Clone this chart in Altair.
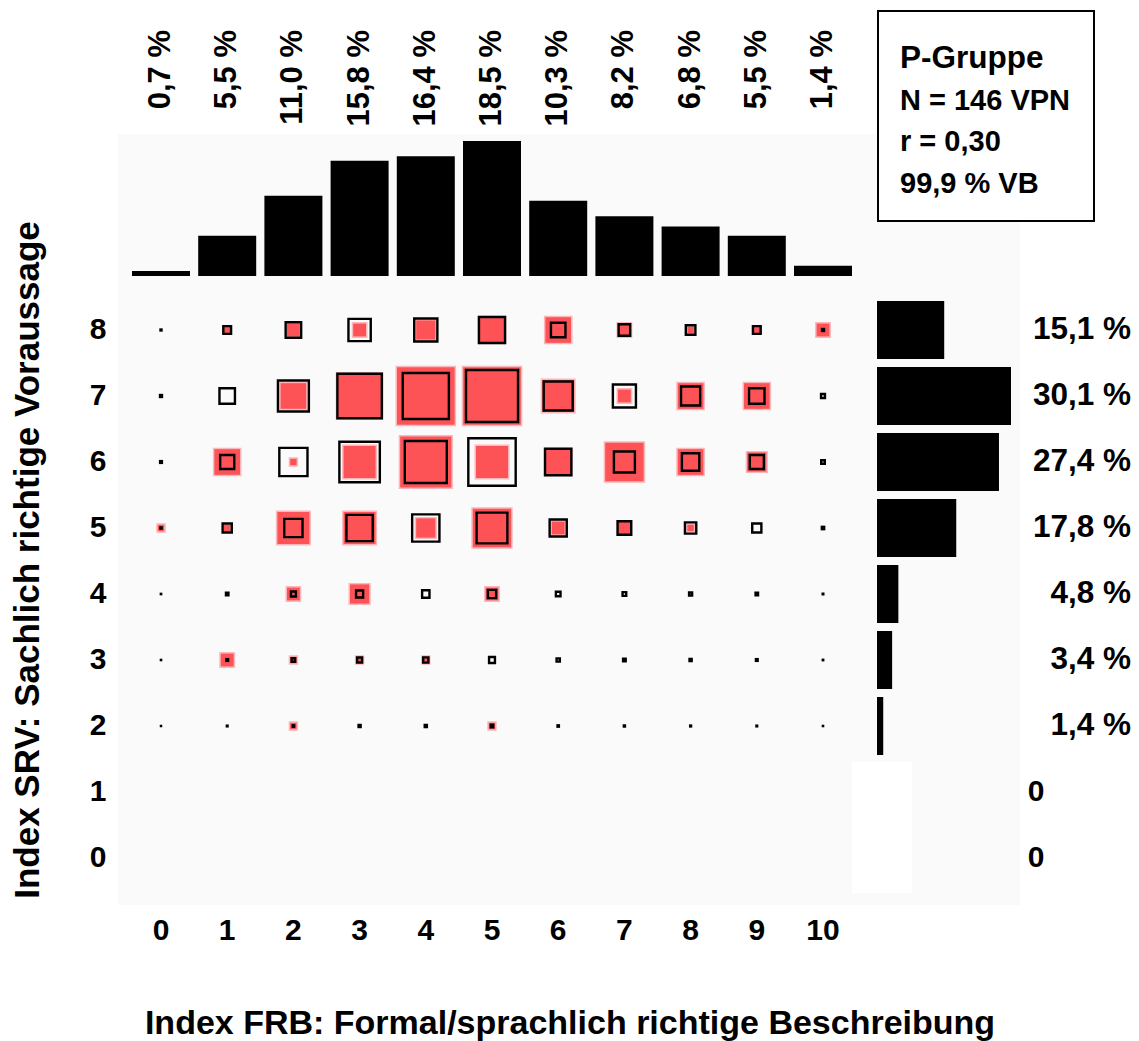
import altair as alt
import pandas as pd

FONT = "Liberation Sans"
RED = "#fd5357"
N = 146

cols = list(range(11))
col_pct = [0.7, 5.5, 11.0, 15.8, 16.4, 18.5, 10.3, 8.2, 6.8, 5.5, 1.4]
col_labels = ["0,7 %", "5,5 %", "11,0 %", "15,8 %", "16,4 %", "18,5 %",
              "10,3 %", "8,2 %", "6,8 %", "5,5 %", "1,4 %"]

rows = [8, 7, 6, 5, 4, 3, 2, 1, 0]
row_pct = [15.1, 30.1, 27.4, 17.8, 4.8, 3.4, 1.4, 0, 0]
row_labels = ["15,1 %", "30,1 %", "27,4 %", "17,8 %", "4,8 %", "3,4 %", "1,4 %", "0", "0"]

# observed counts, one list per row (row 8 first), columns 0..10
observed = [
    [0, 1, 2, 2, 3, 4, 4, 2, 1, 1, 2],
    [0, 0, 4, 7, 9, 9, 5, 2, 4, 4, 0],
    [0, 4, 1, 5, 8, 5, 4, 6, 4, 3, 0],
    [1, 1, 5, 5, 3, 6, 2, 2, 1, 0, 0],
    [0, 0, 2, 3, 0, 2, 0, 0, 0, 0, 0],
    [0, 2, 1, 1, 1, 0, 0, 0, 0, 0, 0],
    [0, 0, 1, 0, 0, 1, 0, 0, 0, 0, 0],
    [0, 0, 0, 0, 0, 0, 0, 0, 0, 0, 0],
    [0, 0, 0, 0, 0, 0, 0, 0, 0, 0, 0],
]

info_lines = ["P-Gruppe", "N = 146 VPN", "r = 0,30", "99,9 % VB"]
x_title = "Index FRB: Formal/sprachlich richtige Beschreibung"
y_title = "Index SRV: Sachlich richtige Voraussage"

cells = pd.DataFrame([
    {"row": r, "col": c, "obs": observed[i][j], "rowpct": row_pct[i], "colpct": col_pct[j]}
    for i, r in enumerate(rows) for j, c in enumerate(cols)
])
top = pd.DataFrame({"col": cols, "pct": col_pct, "label": col_labels})
right = pd.DataFrame({"row": rows, "pct": row_pct, "label": row_labels})
info = pd.DataFrame({"line": info_lines, "i": list(range(len(info_lines)))})
one = pd.DataFrame({"a": [0]})

xs = alt.Scale(domain=[0, 10], range=[161, 823], nice=False, zero=False, padding=0)
ys = alt.Scale(domain=[0, 8], range=[858, 330], nice=False, zero=False, padding=0)
sz = alt.Scale(type="pow", exponent=2, domain=[0, 10], range=[0, 64 ** 2])

X = alt.X("col:Q", scale=xs, axis=None)
Y = alt.Y("row:Q", scale=ys, axis=None)

bg = alt.Chart(one).mark_rect(color="#fafafa").encode(
    x=alt.value(118), x2=alt.value(1020), y=alt.value(134), y2=alt.value(905))
white_patch = alt.Chart(one).mark_rect(color="white").encode(
    x=alt.value(852), x2=alt.value(912), y=alt.value(762), y2=alt.value(893))

red = alt.Chart(cells).transform_filter("datum.obs > 0").mark_square(
    fill=RED, stroke=RED, strokeWidth=3, strokeOpacity=0.4, opacity=1, fillOpacity=1
).encode(x=X, y=Y, size=alt.Size("obs:Q", scale=sz, legend=None))

black = alt.Chart(cells).transform_calculate(
    exp=f"datum.rowpct * datum.colpct * {N} / 10000"
).transform_filter("datum.exp > 0").mark_square(
    filled=False, color="black", strokeWidth=2.4, opacity=1
).encode(x=X, y=Y, size=alt.Size("exp:Q", scale=sz, legend=None))

top_bars = alt.Chart(top).mark_bar(color="black", size=58, orient="vertical").encode(
    x=X, y=alt.Y("pct:Q", scale=alt.Scale(domain=[0, 18.5], range=[276, 141], nice=False, padding=0), axis=None))
top_text = alt.Chart(top).mark_text(
    angle=270, align="right", baseline="middle", font=FONT, fontWeight="bold", fontSize=31
).encode(x=X, y=alt.value(30), text="label:N")

right_bars = alt.Chart(right).transform_filter("datum.pct > 0").mark_bar(
    color="black", size=58, orient="horizontal").encode(
    y=Y, x=alt.X("pct:Q", scale=alt.Scale(domain=[0, 30.1], range=[877, 1011], nice=False, padding=0), axis=None))
right_text = alt.Chart(right).transform_filter("datum.pct > 0").mark_text(
    align="right", baseline="middle", font=FONT, fontWeight="bold", fontSize=31.5
).encode(y=Y, x=alt.value(1131), text="label:N")
right_zero = alt.Chart(right).transform_filter("datum.pct == 0").mark_text(
    align="center", baseline="middle", font=FONT, fontWeight="bold", fontSize=30
).encode(y=Y, x=alt.value(1036), text="label:N")

xticks = alt.Chart(pd.DataFrame({"col": cols})).mark_text(
    align="center", baseline="middle", font=FONT, fontWeight="bold", fontSize=30
).encode(x=X, y=alt.value(931), text="col:N")
yticks = alt.Chart(pd.DataFrame({"row": rows})).mark_text(
    align="center", baseline="middle", font=FONT, fontWeight="bold", fontSize=30
).encode(y=Y, x=alt.value(98), text="row:N")

xt = alt.Chart(pd.DataFrame({"t": [x_title]})).mark_text(
    align="center", baseline="middle", font=FONT, fontWeight="bold", fontSize=34
).encode(x=alt.value(570), y=alt.value(1024), text="t:N")
yt = alt.Chart(pd.DataFrame({"t": [y_title]})).mark_text(
    angle=270, align="center", baseline="middle", font=FONT, fontWeight="bold", fontSize=35
).encode(x=alt.value(28), y=alt.value(560), text="t:N")

box = alt.Chart(one).mark_rect(fill="white", stroke="black", strokeWidth=2).encode(
    x=alt.value(878), x2=alt.value(1094), y=alt.value(11), y2=alt.value(221))
info_text = alt.Chart(info).mark_text(
    align="left", baseline="alphabetic", font=FONT, fontWeight="bold"
).encode(
    x=alt.value(900),
    y=alt.Y("i:Q", scale=alt.Scale(domain=[0, 3], range=[68, 193], nice=False, zero=False), axis=None),
    text="line:N",
    size=alt.condition("datum.i == 0", alt.value(31.5), alt.value(29)),
)

chart = alt.layer(
    bg, white_patch, red, black, top_bars, top_text, right_bars, right_text, right_zero,
    xticks, yticks, xt, yt, box, info_text
).resolve_scale(x="independent", y="independent", size="independent").properties(
    width=1139, height=1041, padding=0, background="white",
    autosize=alt.AutoSizeParams(type="none")
).configure_view(stroke=None)

chart.save("out.html", embed_options={"renderer": "svg", "actions": False})
